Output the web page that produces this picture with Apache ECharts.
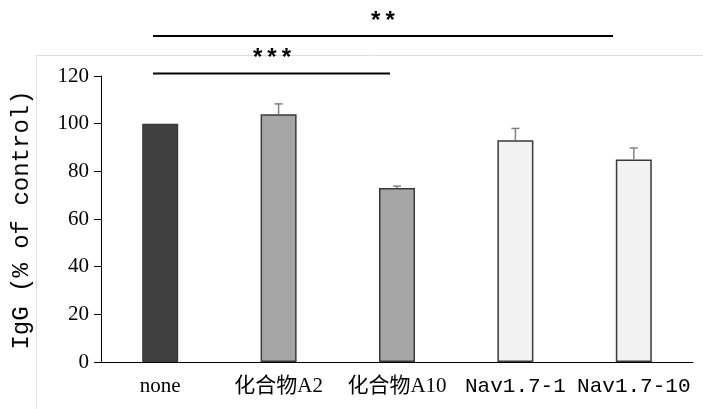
<!DOCTYPE html>
<html>
<head>
<meta charset="utf-8">
<script src="https://cdn.jsdelivr.net/npm/echarts@6/dist/echarts.min.js"></script>
<style>
  html, body { margin: 0; padding: 0; background: #fff; }
  #chart { width: 703px; height: 409px; }
</style>
</head>
<body>
<div id="chart"></div>
<script>
// Groups on the x axis
const categories = ['none', '化合物A2', '化合物A10', 'Nav1.7-1', 'Nav1.7-10'];
// Mean IgG level, % of control
const means = [100, 104, 73, 93, 85];
// Upper error (SD)
const errors = [0, 4.3, 0.8, 5, 4.8];
// Fill for each group
const fills = ['#404040', '#a6a6a6', '#a6a6a6', '#f2f2f2', '#f2f2f2'];
// Y axis ticks
const yTicks = [0, 20, 40, 60, 80, 100, 120];

const serif = "'Liberation Serif', 'Noto Sans CJK SC', serif";
const mono = "'Liberation Mono', 'Noto Sans CJK SC', monospace";

const labelFonts = [serif, serif, serif, mono, mono];

const chart = echarts.init(document.getElementById('chart'), null, { renderer: 'canvas' });

chart.setOption({
  animation: false,
  backgroundColor: '#fff',
  grid: { left: 101, right: 10, top: 76, bottom: 47, containLabel: false },
  xAxis: {
    type: 'category',
    data: categories.map((c, i) => ({ value: c, textStyle: { fontFamily: labelFonts[i] } })),
    axisLine: { lineStyle: { color: '#000', width: 1 } },
    axisTick: { show: false },
    axisLabel: { color: '#000', fontSize: 21, margin: 14, interval: 0 }
  },
  yAxis: {
    type: 'value',
    min: yTicks[0],
    max: yTicks[yTicks.length - 1],
    interval: 20,
    axisLine: { show: true, lineStyle: { color: '#000', width: 1 } },
    axisTick: { show: true, length: 7, lineStyle: { color: '#000' } },
    splitLine: { show: false },
    axisLabel: { color: '#000', fontSize: 21, fontFamily: serif, margin: 12 }
  },
  series: [
    {
      type: 'bar',
      barWidth: 36,
      data: means.map((v, i) => ({
        value: v,
        itemStyle: { color: fills[i], borderColor: '#3a3a3a', borderWidth: 1.5 }
      })),
      z: 2
    },
    {
      type: 'custom',
      data: means.map((v, i) => [i, v, v + errors[i]]),
      renderItem: function (params, api) {
        const i = api.value(0);
        if (api.value(2) - api.value(1) <= 0) return null;
        const lo = api.coord([i, api.value(1)]);
        const hi = api.coord([i, api.value(2)]);
        const cap = 4;
        const style = { stroke: '#808080', lineWidth: 1.5 };
        return {
          type: 'group',
          children: [
            { type: 'line', shape: { x1: lo[0], y1: lo[1], x2: hi[0], y2: hi[1] }, style: style },
            { type: 'line', shape: { x1: hi[0] - cap, y1: hi[1], x2: hi[0] + cap, y2: hi[1] }, style: style }
          ]
        };
      },
      z: 3
    }
  ],
  graphic: [
    // frame edge of the figure panel
    { type: 'line', shape: { x1: 36, y1: 55.5, x2: 703, y2: 55.5 }, style: { stroke: '#dedede', lineWidth: 1 }, z: 0 },
    { type: 'line', shape: { x1: 36.5, y1: 55, x2: 36.5, y2: 409 }, style: { stroke: '#dedede', lineWidth: 1 }, z: 0 },
    // y axis title
    {
      type: 'text',
      x: 22, y: 220,
      rotation: Math.PI / 2,
      style: {
        text: 'IgG (% of control)',
        font: "24px 'Liberation Mono', monospace",
        fill: '#000',
        textAlign: 'center',
        textVerticalAlign: 'middle'
      }
    },
    // significance brackets
    { type: 'line', shape: { x1: 153, y1: 36, x2: 613, y2: 36 }, style: { stroke: '#000', lineWidth: 2 } },
    { type: 'text', x: 383, y: 23, style: { text: '**', font: "bold 24px 'Liberation Mono', monospace", fill: '#000', textAlign: 'center', textVerticalAlign: 'middle' } },
    { type: 'line', shape: { x1: 153, y1: 73.5, x2: 390, y2: 73.5 }, style: { stroke: '#000', lineWidth: 2 } },
    { type: 'text', x: 272, y: 60, style: { text: '***', font: "bold 24px 'Liberation Mono', monospace", fill: '#000', textAlign: 'center', textVerticalAlign: 'middle' } }
  ]
});
</script>
</body>
</html>
